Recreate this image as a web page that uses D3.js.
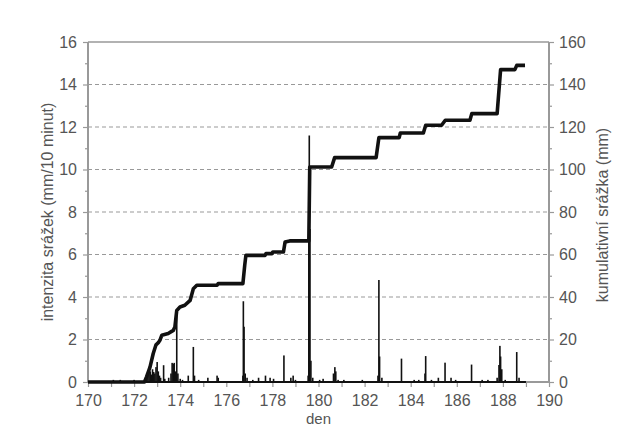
<!DOCTYPE html>
<html>
<head>
<meta charset="utf-8">
<script src="https://cdn.jsdelivr.net/npm/d3@7"></script>
<style>
  html, body { margin: 0; padding: 0; background: #fff; }
  svg { display: block; font-family: "Liberation Sans", Arial, sans-serif; }
</style>
</head>
<body>
<svg id="chart" width="629" height="427"></svg>
<script>
// Day of year (x axis)
const xTicks = [170, 172, 174, 176, 178, 180, 182, 184, 186, 188, 190];
const leftTicks = [0, 2, 4, 6, 8, 10, 12, 14, 16];
const rightTicks = [0, 20, 40, 60, 80, 100, 120, 140, 160];

// Rain intensity peaks (mm / 10 min)
const rainDay = [
  171.1, 171.4, 172.0,
  172.5, 172.55, 172.6, 172.65, 172.7, 172.75, 172.8, 172.85, 172.9, 172.95,
  173.0, 173.05, 173.1, 173.15, 173.28, 173.33, 173.5, 173.6, 173.65, 173.7,
  173.74, 173.8, 173.85, 173.9, 174.0, 174.1, 174.35, 174.57, 174.62, 174.8,
  175.2, 175.6, 175.65, 176.72, 176.74, 176.77, 176.82, 176.9, 177.15, 177.4,
  177.7, 177.9, 178.05, 178.5, 178.8, 178.9, 179.0, 179.55, 179.58, 179.6,
  179.63, 179.67, 179.75, 180.05, 180.2, 180.65, 180.71, 180.75, 180.85, 181.1,
  181.9, 182.58, 182.62, 182.65, 182.75, 183.6, 184.15, 184.35, 184.62, 184.65,
  184.9, 185.2, 185.49, 185.75, 185.95, 186.64, 187.1, 187.35, 187.75, 187.83,
  187.87, 187.9, 187.95, 188.1, 188.6, 188.7
];
const rainIntensity = [
  0.1, 0.1, 0.1,
  0.2, 0.4, 0.3, 0.55, 0.5, 0.35, 0.6, 0.47, 0.4, 0.7,
  0.94, 0.5, 0.3, 0.2, 0.79, 0.15, 0.2, 0.4, 0.9, 0.85,
  0.9, 0.5, 3.4, 0.4, 0.15, 0.1, 0.3, 1.65, 0.3, 0.1,
  0.2, 0.3, 0.2, 0.3, 3.8, 2.6, 0.4, 0.2, 0.1, 0.2,
  0.3, 0.2, 0.15, 1.25, 0.2, 0.3, 0.1, 0.3, 7.7, 11.6,
  7.2, 1.0, 0.2, 0.1, 0.15, 0.4, 0.7, 0.5, 0.1, 0.1,
  0.1, 0.3, 4.8, 1.2, 0.2, 1.1, 0.1, 0.1, 0.4, 1.22,
  0.1, 0.2, 0.91, 0.2, 0.1, 0.82, 0.1, 0.1, 0.2, 0.8,
  1.7, 1.2, 0.6, 0.1, 1.41, 0.2
];
const rainStart = 170, rainEnd = 189;

// Cumulative rainfall (mm)
const cumDay = [
  170.0, 172.45, 172.54, 172.69, 172.83, 172.95, 173.05, 173.12, 173.2, 173.48,
  173.7, 173.77, 173.85, 173.99, 174.2, 174.43, 174.57, 174.72, 175.6, 175.65,
  176.72, 176.8, 176.85, 177.68, 177.72, 177.98, 178.02, 178.48, 178.55, 178.75,
  179.58, 179.62, 180.57, 180.7, 182.5, 182.62, 183.5, 183.55, 184.55, 184.65,
  185.34, 185.5, 186.57, 186.65, 187.75, 187.9, 188.52, 188.6, 188.96
];
const cumRain = [
  0, 0, 2.4, 7, 13.4, 17.5, 18.5, 19.6, 22, 22.8,
  24.3, 25.9, 33.7, 35.3, 36.1, 38.4, 43.9, 45.5, 45.5, 46.3,
  46.3, 55, 59.6, 59.6, 60.4, 60.4, 61.2, 61.2, 65.9, 66.4,
  66.4, 101.2, 101.2, 105.6, 105.6, 115, 115, 117.2, 117.2, 120.8,
  120.8, 123.2, 123.2, 126.3, 126.3, 147, 147, 149, 149
];

const svg = d3.select("#chart");
const plotL = 88, plotR = 549, plotT = 42, plotB = 382;
const axisColor = "#999";
const textColor = "#555";
const fontSize = "16px";

const x = d3.scaleLinear().domain([170, 190]).range([plotL, plotR]);
const yL = d3.scaleLinear().domain([0, 16]).range([plotB, plotT]);
const yR = d3.scaleLinear().domain([0, 160]).range([plotB, plotT]);

// Dashed gridlines
svg.append("g").selectAll("line")
  .data(leftTicks.filter(d => d > 0 && d < 16))
  .join("line")
  .attr("x1", plotL).attr("x2", plotR)
  .attr("y1", d => yL(d)).attr("y2", d => yL(d))
  .attr("stroke", "#999").attr("stroke-width", 1.2)
  .attr("stroke-dasharray", "4,3");

// Top frame line
svg.append("line")
  .attr("x1", plotL).attr("x2", plotR).attr("y1", plotT).attr("y2", plotT)
  .attr("stroke", axisColor).attr("stroke-width", 1.5);

// Left axis
const gL = svg.append("g").attr("transform", `translate(${plotL},0)`);
gL.call(d3.axisLeft(yL).tickValues(leftTicks).tickSize(5).tickPadding(6).tickFormat(d3.format("d")));
gL.append("g").call(d3.axisLeft(yL).tickValues(d3.range(1, 16, 2)).tickSize(3).tickFormat(""));

// Right axis
const gR = svg.append("g").attr("transform", `translate(${plotR},0)`);
gR.call(d3.axisRight(yR).tickValues(rightTicks).tickSize(5).tickPadding(5).tickFormat(d3.format("d")));
gR.append("g").call(d3.axisRight(yR).tickValues(d3.range(10, 160, 20)).tickSize(3).tickFormat(""));

// Bottom axis
const gB = svg.append("g").attr("transform", `translate(0,${plotB})`);
gB.call(d3.axisBottom(x).tickValues(xTicks).tickSize(5).tickPadding(8).tickFormat(d3.format("d")));
gB.append("g").call(d3.axisBottom(x).tickValues(d3.range(171, 190, 2)).tickSize(5).tickFormat(""));

[gL, gR, gB].forEach(g => {
  g.selectAll(".domain").attr("stroke", axisColor).attr("stroke-width", 2);
  g.selectAll("line").attr("stroke", axisColor).attr("stroke-width", 1.2);
  g.selectAll("text").attr("fill", textColor).style("font-size", fontSize)
    .style("font-family", "'Liberation Sans', Arial, sans-serif");
});
gL.selectAll(".domain").attr("d", `M0,${plotT}V${plotB}`);
gR.selectAll(".domain").attr("d", `M0,${plotT}V${plotB}`);
gB.selectAll(".domain").attr("d", `M${plotL},0H${plotR}`);

// Intensity: baseline and spikes
svg.append("line")
  .attr("x1", x(rainStart)).attr("x2", x(rainEnd))
  .attr("y1", yL(0)).attr("y2", yL(0))
  .attr("stroke", "#111").attr("stroke-width", 2);

const rain = rainDay.map((d, i) => ({ day: d, v: rainIntensity[i] }));
svg.append("g").selectAll("rect")
  .data(rain)
  .join("rect")
  .attr("x", d => x(d.day) - 0.8)
  .attr("width", 1.6)
  .attr("y", d => yL(d.v))
  .attr("height", d => yL(0) - yL(d.v))
  .attr("fill", "#111");

// Cumulative rainfall line
const cum = cumDay.map((d, i) => ({ day: d, v: cumRain[i] }));
svg.append("path")
  .datum(cum)
  .attr("fill", "none")
  .attr("stroke", "#111")
  .attr("stroke-width", 3.6)
  .attr("stroke-linejoin", "round")
  .attr("d", d3.line().x(d => x(d.day)).y(d => yR(d.v)));

// Axis titles
svg.append("text")
  .attr("transform", `translate(47,${(plotT + plotB) / 2}) rotate(-90)`)
  .attr("text-anchor", "middle").attr("dominant-baseline", "central")
  .attr("fill", textColor).style("font-size", fontSize)
  .text("intenzita srážek (mm/10 minut)");

svg.append("text")
  .attr("transform", `translate(602,${(plotT + plotB) / 2 + 3}) rotate(-90)`)
  .attr("text-anchor", "middle").attr("dominant-baseline", "central")
  .attr("fill", textColor).style("font-size", fontSize)
  .text("kumulativní srážka (mm)");

svg.append("text")
  .attr("x", (plotL + plotR) / 2).attr("y", 423.5)
  .attr("text-anchor", "middle")
  .attr("fill", textColor).style("font-size", "15px")
  .text("den");
</script>
</body>
</html>
